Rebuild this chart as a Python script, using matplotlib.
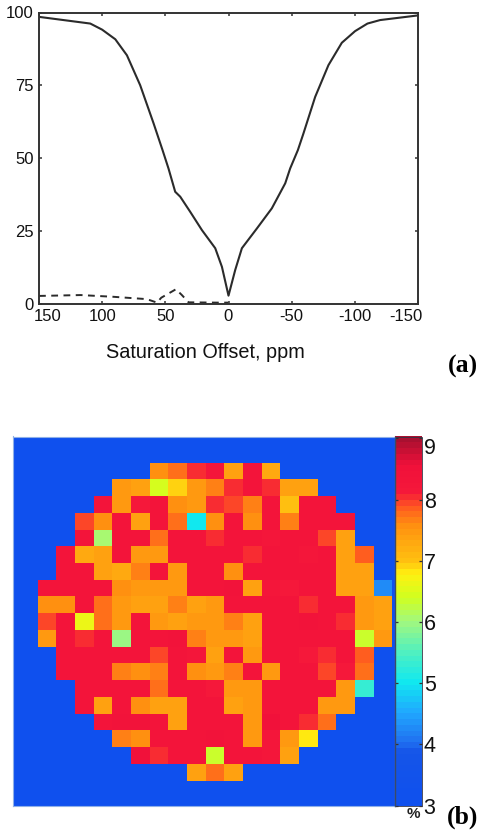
import numpy as np
import matplotlib.pyplot as plt
from matplotlib.colors import LinearSegmentedColormap, Normalize
from matplotlib.transforms import ScaledTranslation

plt.rcParams['font.family'] = ['Liberation Sans', 'DejaVu Sans']
plt.rcParams['axes.unicode_minus'] = False

# (a) saturation curves
offset_solid = [150, 109.4, 100, 89.6, 80.4, 69.9, 59.3, 52.2, 47.5, 42.2, 38.2, 30.3, 21, 10.5, 5.2, 0,
                -5.3, -10.6, -22.5, -34.3, -44.9, -48.8, -54.9, -59.3, -68.6, -79.1, -89.7, -100.2, -110, -120, -150]
signal_solid = [98.5, 96.2, 94.1, 90.8, 85.3, 75, 61.9, 52.7, 46.4, 38.4, 36.7, 31.5, 25.2, 19, 12.6, 2.7,
                11.5, 19, 25.8, 32.7, 41.3, 46.4, 52.7, 58.4, 71, 81.9, 89.6, 93.6, 96.2, 97.4, 99]
offset_dash = [150, 117, 91, 64.6, 56.6, 53.2, 41.6, 36.9, 31.6, 9.2, 0]
signal_dash = [2.6, 2.9, 2.3, 1.5, 0.3, 2, 4.9, 2.9, 0.4, 0.3, 0.3]
x_ticks = [150, 100, 50, 0, -50, -100, -150]
y_ticks = [0, 25, 50, 75, 100]

# (b) map, one list per row with the first filled column
row_start = [6, 4, 3, 2, 2, 1, 1, 0, 0, 0, 0, 1, 1, 2, 2, 3, 4, 5, 8]
row_values = [
    [7.55, 7.8, 8.0, 8.2, 7.4, 8.3, 7.3],
    [7.5, 7.35, 6.45, 6.9, 7.5, 7.7, 8.0, 8.3, 8.0, 7.35, 7.4],
    [8.3, 7.5, 8.15, 8.3, 7.55, 7.5, 8.0, 7.9, 7.7, 8.3, 7.0, 8.3, 8.3],
    [7.9, 7.6, 8.3, 7.35, 8.3, 7.75, 5.0, 7.55, 8.3, 7.6, 8.3, 7.65, 8.3, 8.3, 8.3],
    [8.3, 6.1, 8.3, 8.3, 7.75, 8.3, 8.3, 8.0, 8.3, 8.3, 8.25, 8.3, 8.3, 7.95, 7.35],
    [8.3, 7.3, 7.4, 8.3, 7.5, 7.5, 8.3, 8.3, 8.3, 8.3, 8.05, 8.3, 8.3, 8.25, 8.3, 7.35, 7.85],
    [8.3, 8.3, 7.35, 7.3, 7.7, 8.3, 7.45, 8.3, 8.3, 7.55, 8.3, 8.3, 8.3, 8.3, 8.3, 7.4, 7.35],
    [8.3, 8.3, 8.3, 8.3, 7.55, 7.45, 7.5, 7.45, 8.3, 8.35, 8.45, 7.4, 8.25, 8.1, 8.3, 8.3, 7.4, 7.35, 4.3],
    [7.6, 7.55, 8.3, 7.75, 7.5, 7.4, 7.4, 7.65, 7.4, 7.45, 8.3, 8.3, 8.3, 8.3, 8.05, 8.3, 8.3, 7.45, 7.4],
    [7.95, 8.3, 6.6, 7.75, 7.5, 8.3, 7.45, 7.4, 7.45, 7.45, 7.7, 7.4, 8.3, 8.3, 8.4, 8.3, 8.05, 7.45, 7.4],
    [7.45, 8.3, 8.05, 8.3, 6.0, 8.3, 8.3, 8.45, 7.7, 7.5, 7.45, 7.4, 8.3, 8.3, 8.3, 8.3, 8.3, 6.3, 7.45],
    [8.3, 8.3, 8.3, 8.3, 8.3, 7.95, 8.3, 8.25, 7.4, 8.3, 7.45, 8.3, 8.3, 8.15, 8.05, 8.3, 7.85],
    [8.35, 8.3, 8.35, 7.7, 7.55, 7.65, 8.35, 7.55, 7.45, 7.65, 8.3, 7.45, 8.3, 8.3, 7.95, 8.1, 7.8],
    [8.3, 8.35, 8.35, 8.35, 7.75, 8.3, 8.3, 8.1, 7.5, 7.45, 8.3, 8.3, 8.3, 8.3, 7.45, 5.3],
    [8.35, 7.4, 8.35, 7.55, 7.35, 7.35, 8.3, 8.35, 7.4, 7.5, 8.3, 8.3, 8.3, 7.45, 7.45],
    [8.35, 8.4, 8.4, 8.35, 7.4, 8.3, 8.35, 8.35, 7.5, 8.5, 8.35, 8.05, 7.75],
    [7.7, 7.55, 8.3, 8.3, 8.35, 8.4, 8.35, 7.5, 8.25, 7.45, 6.85],
    [8.5, 8.0, 8.3, 8.3, 6.35, 8.3, 8.3, 8.25, 7.4],
    [7.35, 7.75, 7.4],
]
cbar_ticks = [3, 4, 5, 6, 7, 8, 9]

W, H = 483, 835
blue = '#0f50ee'
dark = '#333333'

# colormap anchors
cmap_vals = [3, 3.85, 4.0, 4.5, 5, 5.5, 6, 6.4, 6.8, 7.0, 7.3, 7.6, 7.9, 8.15, 8.6, 9.03]
cmap_cols = ['#0f50ee', '#1555e8', '#2070f0', '#20a8ff', '#10e8f0', '#50f0c0', '#a0f880', '#d0ff20',
             '#fff010', '#ffc010', '#ffaa10', '#ff9010', '#ff5a20', '#f5183a', '#f0103a', '#a81030']
norm = Normalize(3, 9.03)
cmap = LinearSegmentedColormap.from_list(
    'map', [(norm(v), c) for v, c in zip(cmap_vals, cmap_cols)], N=64)


def px_axes(fig, left, top, right, bottom):
    return fig.add_axes([left / W, 1 - bottom / H, (right - left) / W, (bottom - top) / H])


fig = plt.figure(figsize=(W / 100, H / 100), dpi=100, facecolor='white')

# top panel
ax = px_axes(fig, 39, 12.5, 418, 303.5)
ax.plot(offset_solid, signal_solid, color='#2b2b2b', lw=1.5)
ax.plot(offset_dash, signal_dash, color='#2b2b2b', lw=1.4, dashes=(3.5, 2.8))
ax.set_xlim(150, -150)
ax.set_ylim(0, 100)
ax.set_xticks(x_ticks)
ax.set_yticks(y_ticks)
ax.tick_params(direction='in', length=2.5, width=1.1, color=dark, top=True, right=True,
               labelsize=12, pad=4, labelcolor='#111111')
# end labels sit inside the axis ends in the original
labels = ax.get_xticklabels()
labels[0].set_transform(labels[0].get_transform() + ScaledTranslation(9 / 100, 0, fig.dpi_scale_trans))
labels[-1].set_transform(labels[-1].get_transform() + ScaledTranslation(-12 / 100, 0, fig.dpi_scale_trans))
for spine in ax.spines.values():
    spine.set_linewidth(1.4)
    spine.set_color(dark)
fig.text(205.5 / W, 1 - 352 / H, 'Saturation Offset, ppm', ha='center', va='center', fontsize=14.3, color='#111111')
fig.text(462.5 / W, 1 - 366 / H, '(a)', ha='center', va='center', fontsize=18.5, fontweight='bold',
         family=['Liberation Serif', 'DejaVu Serif'], color='black')

# bottom panel
ax2 = px_axes(fig, 13.3, 436.5, 395, 805.7)
ax2.set_facecolor(blue)
grid = np.full((19, 19), np.nan)
for r, (start, vals) in enumerate(zip(row_start, row_values)):
    grid[r, start:start + len(vals)] = vals
mesh = ax2.pcolormesh(np.arange(20), np.arange(20), np.ma.masked_invalid(grid), cmap=cmap, norm=norm)
ax2.set_xlim(-1.3, 19.15)
ax2.set_ylim(20.5, -1.56)
ax2.set_xticks([])
ax2.set_yticks([])
for spine in ax2.spines.values():
    spine.set_linewidth(0.8)
    spine.set_color('#8fb0e8')

cax = px_axes(fig, 395, 436.5, 422.3, 805.7)
cbar = fig.colorbar(mesh, cax=cax, ticks=cbar_ticks)
cbar.outline.set_linewidth(0.6)
cbar.outline.set_edgecolor('#334')
cax.tick_params(direction='in', length=2.5, width=0.9, color='#333333', left=True, right=True,
                labelsize=15.5, pad=1, labelcolor='#111111')
cax.get_yticklabels()[-1].set_va('top')
fig.add_artist(plt.Line2D([395 / W, 395 / W], [1 - 805.7 / H, 1 - 436.5 / H], color='#3a4a66', lw=1))
fig.text(413 / W, 1 - 814 / H, '%', ha='center', va='center', fontsize=11, fontweight='bold', color='#222222')
fig.text(462.5 / W, 1 - 817 / H, '(b)', ha='center', va='center', fontsize=18.5, fontweight='bold',
         family=['Liberation Serif', 'DejaVu Serif'], color='black')

fig.savefig('out.png', dpi=100)
